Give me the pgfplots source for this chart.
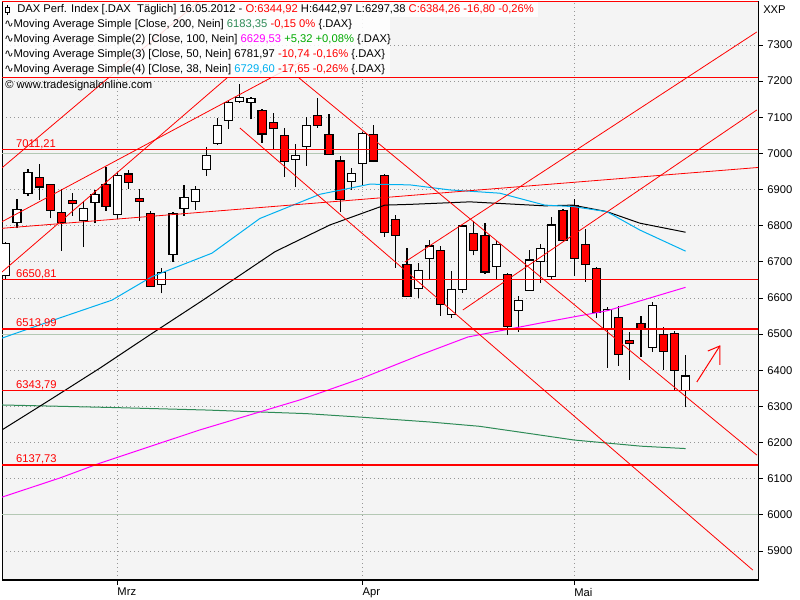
\documentclass[border=0pt]{standalone}
\usepackage{pgfplots}
\pgfplotsset{compat=1.18}
\usepackage{fontspec}
\setmainfont{Liberation Sans}
\newfontfamily\dejavu{DejaVu Sans}
\definecolor{bgc}{HTML}{F4F4F4}
\definecolor{ma200}{RGB}{46,139,87}
\definecolor{ma100}{RGB}{255,0,255}
\definecolor{ma38}{RGB}{0,176,240}
\definecolor{gridc}{RGB}{150,150,150}
\definecolor{majgrid}{RGB}{180,200,180}
\definecolor{pgreen}{RGB}{0,170,0}
\newcommand\lf{\fontsize{8.4}{9.5}\selectfont}
\pgfplotsset{
 wick/.style={draw=black, line width=0.9pt, mark=none},
 upc/.style={draw=black, fill=white, line width=0.9pt, mark=none},
 dnc/.style={draw=black, fill=red, line width=0.9pt, mark=none},
 trend/.style={red, line width=0.6pt, mark=none},
 hline/.style={red, line width=0.9pt, mark=none},
 maj/.style={majgrid, line width=0.75pt, mark=none},
}
% candle: index, open, high, low, close
\newcommand\candle[5]{%
 \pgfmathsetmacro\xl{#1-0.36}\pgfmathsetmacro\xr{#1+0.36}%
 \ifdim #5pt>#2pt \def\bstyle{upc}\else\def\bstyle{dnc}\fi
 \edef\tmp{\noexpand\addplot[wick] coordinates {(#1,#4) (#1,#3)};
   \noexpand\addplot[\bstyle] coordinates {(\xl,#2) (\xr,#2) (\xr,#5) (\xl,#5)} --cycle;}%
 \tmp}
\newcommand\hlvl[2]{%
 \addplot[hline] coordinates {(-1,#1) (70,#1)};
 \node[anchor=base west, inner sep=0pt, yshift=1.7pt, text=red, font=\lf] at (axis cs:0.91,#1) {#2};}
\begin{document}
\begin{tikzpicture}
\path[use as bounding box] (0,0) rectangle (600pt,450pt);
\begin{axis}[
  at={(1.5pt,15pt)}, anchor=south west, scale only axis,
  width=567pt, height=433.5pt,
  xmin=-0.34, xmax=67.5, ymin=5819.7, ymax=7419,
  axis background/.style={fill=bgc},
  axis line style={black, line width=0.75pt},
  ytick={5900,6000,...,7300},
  yticklabel pos=right, ytick pos=right,
  xtick={10,32,51}, xticklabels={Mrz,Apr,Mai}, xtick pos=left,
  tick align=outside, major tick length=3.5pt,
  tick style={black, line width=0.6pt},
  ymajorgrids, xmajorgrids,
  grid style={gridc, line width=0.6pt, dash pattern=on 0.75pt off 2.25pt},
  /pgf/number format/.cd, 1000 sep={}, assume math mode=true, /pgfplots/.cd,
  yticklabel style={font=\lf, anchor=west, xshift=0pt},
  xticklabel style={font=\lf, anchor=north west, inner xsep=0pt, yshift=1pt},
]
% major grid lines
\addplot[maj] coordinates {(-1,7000) (70,7000)};
\addplot[maj] coordinates {(-1,6500) (70,6500)};
\addplot[maj] coordinates {(-1,6000) (70,6000)};
% candles
\candle{0}{6662}{6755}{6650}{6751}
\candle{1}{6809}{6873}{6793}{6845}
\candle{2}{6890}{6957}{6882}{6948}
\candle{3}{6934}{6971}{6871}{6907}
\candle{4}{6913}{6915}{6820}{6843}
\candle{5}{6837}{6901}{6731}{6808}
\candle{6}{6870}{6891}{6827}{6861}
\candle{7}{6814}{6868}{6741}{6848}
\candle{8}{6865}{6898}{6807}{6887}
\candle{9}{6913}{6963}{6842}{6854}
\candle{10}{6832}{6948}{6818}{6940}
\candle{11}{6943}{6953}{6902}{6920}
\candle{12}{6876}{6901}{6814}{6866}
\candle{13}{6834}{6841}{6631}{6632}
\candle{14}{6638}{6682}{6613}{6671}
\candle{15}{6721}{6839}{6700}{6834}
\candle{16}{6848}{6913}{6828}{6879}
\candle{17}{6868}{6910}{6843}{6901}
\candle{18}{6956}{7017}{6938}{6995}
\candle{19}{7028}{7098}{7024}{7078}
\candle{20}{7092}{7148}{7068}{7141}
\candle{21}{7144}{7192}{7140}{7155}
\candle{22}{7141}{7155}{7094}{7153}
\candle{23}{7119}{7122}{7030}{7054}
\candle{24}{7086}{7111}{7010}{7070}
\candle{25}{7050}{7070}{6936}{6978}
\candle{26}{6984}{7026}{6906}{6995}
\candle{27}{7020}{7100}{6966}{7078}
\candle{28}{7105}{7153}{7071}{7078}
\candle{29}{7053}{7109}{6998}{6998}
\candle{30}{6979}{6993}{6839}{6873}
\candle{31}{6923}{6959}{6899}{6945}
\candle{32}{6973}{7058}{6913}{7056}
\candle{33}{7053}{7079}{6976}{6979}
\candle{34}{6939}{6943}{6770}{6782}
\candle{35}{6817}{6830}{6684}{6773}
\candle{36}{6693}{6737}{6603}{6605}
\candle{37}{6626}{6698}{6601}{6675}
\candle{38}{6709}{6760}{6650}{6744}
\candle{39}{6732}{6744}{6551}{6583}
\candle{40}{6555}{6675}{6545}{6624}
\candle{41}{6624}{6803}{6615}{6799}
\candle{42}{6779}{6813}{6718}{6732}
\candle{43}{6773}{6807}{6666}{6672}
\candle{44}{6688}{6758}{6650}{6749}
\candle{45}{6664}{6668}{6498}{6521}
\candle{46}{6566}{6605}{6507}{6592}
\candle{47}{6621}{6733}{6620}{6705}
\candle{48}{6701}{6749}{6641}{6737}
\candle{49}{6659}{6825}{6650}{6802}
\candle{50}{6843}{6845}{6758}{6760}
\candle{51}{6856}{6874}{6661}{6710}
\candle{52}{6749}{6790}{6645}{6693}
\candle{53}{6682}{6685}{6544}{6560}
\candle{54}{6516}{6576}{6407}{6569}
\candle{55}{6547}{6578}{6413}{6444}
\candle{56}{6483}{6505}{6374}{6474}
\candle{57}{6530}{6550}{6438}{6515}
\candle{58}{6464}{6590}{6451}{6580}
\candle{59}{6500}{6521}{6401}{6452}
\candle{60}{6502}{6508}{6345}{6400}
\candle{61}{6344.92}{6442.97}{6297.38}{6384.26}
% moving averages
\addplot[ma200, line width=0.75pt, mark=none] coordinates {
 (-0.34,6304) (9.5,6297) (18,6290) (27,6280) (32,6270) (38,6257) (42.5,6245) (47,6225) (51,6207) (57,6190) (61,6183.35)};
\addplot[ma100, line width=0.75pt, mark=none] coordinates {
 (-0.34,6049) (4.86,6102) (8.45,6143) (17.42,6235) (26.39,6318) (32.04,6379) (37.16,6442) (41.46,6492) (48.37,6533) (54,6565) (61,6629.53)};
\addplot[black, line width=0.75pt, mark=none] coordinates {
 (-0.34,6235) (3.96,6318) (8.45,6406) (12.93,6498) (17.69,6594) (24.15,6728) (29.08,6802) (34.02,6857) (36.26,6859) (41.64,6866) (48.37,6855) (50.88,6857) (53.93,6839) (56.9,6807) (61,6781.97)};
\addplot[ma38, line width=0.75pt, mark=none] coordinates {
 (-0.34,6489) (4.86,6545) (9.52,6594) (13.11,6659) (18.5,6724) (22.8,6820) (28.19,6887) (32.67,6915) (36.26,6913) (39.85,6899) (44.33,6890) (48.37,6857) (50.88,6853) (53.93,6839) (56.9,6788) (61,6729.6)};
% horizontal levels
\addplot[hline] coordinates {(-1,7209) (70,7209)};
\hlvl{7011.21}{7011,21}
\hlvl{6650.81}{6650,81}
\hlvl{6513.99}{6513,99}
\hlvl{6343.79}{6343,79}
\hlvl{6137.73}{6137,73}
% trend lines
\addplot[trend] coordinates {(-0.34,6960.2) (17.48,7424.5)};
\addplot[trend] coordinates {(-0.34,6811.1) (26.39,7252.1)};
\addplot[trend] coordinates {(-0.34,6672) (19.93,7211)};
\addplot[trend] coordinates {(-0.34,6792.8) (67.5,6961.1)};
\addplot[trend] coordinates {(21.01,7070.3) (67.03,5847.3)};
\addplot[trend] coordinates {(26.21,7211.5) (67.39,6165.5)};
\addplot[trend] coordinates {(35.81,6699.6) (67.39,7336)};
\addplot[trend] coordinates {(41.02,6566.8) (67.39,7120.1)};
% arrow
\addplot[trend, line width=0.75pt] coordinates {(62.01,6367.5) (64.07,6467.1)};
\addplot[trend, line width=0.75pt] coordinates {(63.0,6453.3) (64.07,6467.1) (64.07,6414.6)};
\end{axis}
\begin{scope}[x=0.75pt, y=-0.75pt, shift={(0pt,450pt)}]
 \fill[white, opacity=0.85] (2.5,2.5) rectangle (538,17.5);
 \fill[white, opacity=0.85] (2.5,17.5) rectangle (390,77);
 \draw[red, line width=1.2pt] (2,1.5) -- (758,1.5);
 \draw[black, line width=0.7pt] (7,5) -- (7,15);
 \draw[black, line width=0.7pt, fill=white] (5,7.5) rectangle (9.5,12.5);
 \node[anchor=west, inner sep=0pt, font=\lf] at (17,10) {DAX Perf. Index [.DAX\ \ Täglich] 16.05.2012 - \textcolor{red}{O:6344,92} H:6442,97 L:6297,38 \textcolor{red}{C:6384,26 -16,80 -0,26\%}};
 \node[anchor=west, inner sep=0pt, font=\lf] at (4,25) {{\dejavu ∿}Moving Average Simple [Close, 200, Nein] \textcolor{ma200}{6183,35} \textcolor{red}{-0,15 0\%} \{.DAX\}};
 \node[anchor=west, inner sep=0pt, font=\lf] at (4,40) {{\dejavu ∿}Moving Average Simple(2) [Close, 100, Nein] \textcolor{ma100}{6629,53} \textcolor{pgreen}{+5,32 +0,08\%} \{.DAX\}};
 \node[anchor=west, inner sep=0pt, font=\lf] at (4,55) {{\dejavu ∿}Moving Average Simple(3) [Close, 50, Nein] 6781,97 \textcolor{red}{-10,74 -0,16\%} \{.DAX\}};
 \node[anchor=west, inner sep=0pt, font=\lf] at (4,70) {{\dejavu ∿}Moving Average Simple(4) [Close, 38, Nein] \textcolor{ma38}{6729,60} \textcolor{red}{-17,65 -0,26\%} \{.DAX\}};
 \node[anchor=west, inner sep=0pt, font=\lf] at (5,86) {© www.tradesignalonline.com};
 \node[anchor=west, inner sep=0pt, font=\lf] at (763,10) {XXP};
\end{scope}
\end{tikzpicture}
\end{document}
